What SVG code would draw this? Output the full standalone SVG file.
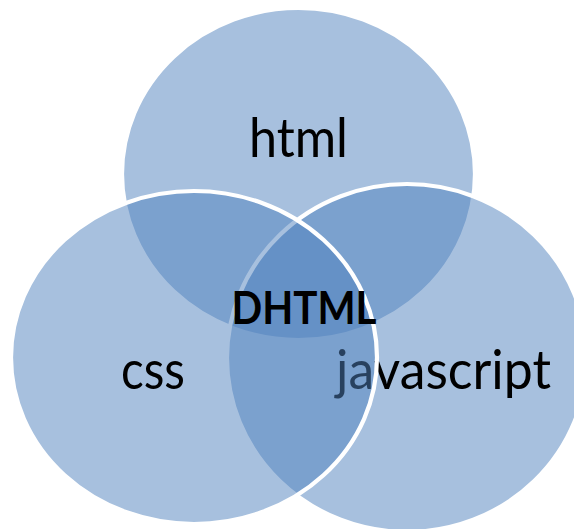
<svg xmlns="http://www.w3.org/2000/svg" width="574" height="529" viewBox="0 0 574 529">
  <style>
    .set { fill: #4F81BD; fill-opacity: 0.5; stroke: #FFFFFF; stroke-width: 4.2; }
    .lbl { font-family: Lato, "Liberation Sans", sans-serif; font-size: 54px; fill: #000000; }
    .core { font-family: Lato, "Liberation Sans", sans-serif; font-size: 46px; font-weight: bold; fill: #000000; }
  </style>
  <rect width="574" height="529" fill="#FFFFFF"/>
  <g id="node-html">
    <ellipse class="set" cx="298.5" cy="174" rx="176.5" ry="166"/>
    <text class="lbl" x="249" y="157" textLength="99" lengthAdjust="spacingAndGlyphs">html</text>
  </g>
  <g id="node-javascript">
    <ellipse class="set" cx="407" cy="358" rx="180" ry="174"/>
    <text class="lbl" x="336" y="388.5" textLength="215" lengthAdjust="spacingAndGlyphs">javascript</text>
  </g>
  <g id="node-css">
    <ellipse class="set" cx="194" cy="357.5" rx="183" ry="166.5"/>
    <text class="lbl" x="121" y="388.5" textLength="64" lengthAdjust="spacingAndGlyphs">css</text>
  </g>
  <g id="node-dhtml">
    <text class="core" x="231.5" y="324" textLength="145" lengthAdjust="spacingAndGlyphs">DHTML</text>
  </g>
</svg>
